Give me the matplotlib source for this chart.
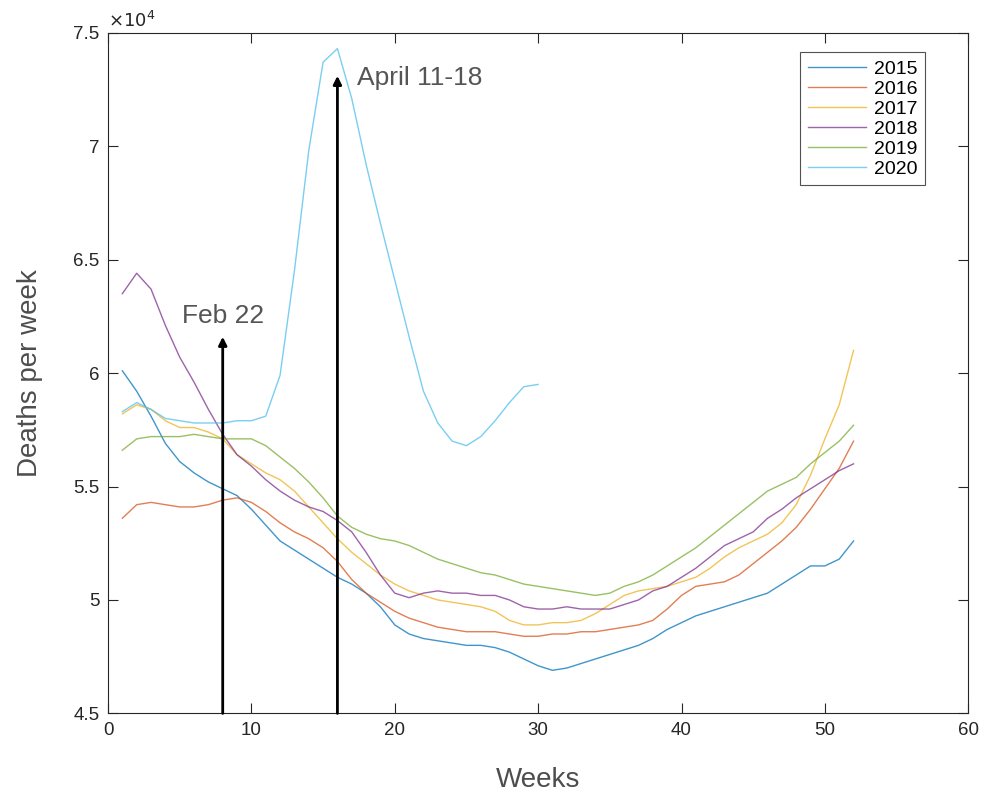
import matplotlib.pyplot as plt
import numpy as np

plt.rcParams['font.family'] = ['Liberation Sans', 'DejaVu Sans']

# weekly deaths (x 10^4)
weeks = np.arange(1, 53)
d2015 = [6.01, 5.92, 5.81, 5.69, 5.61, 5.56, 5.52, 5.49, 5.46, 5.40, 5.33, 5.26, 5.22,
         5.18, 5.14, 5.10, 5.07, 5.03, 4.97, 4.89, 4.85, 4.83, 4.82, 4.81, 4.80, 4.80,
         4.79, 4.77, 4.74, 4.71, 4.69, 4.70, 4.72, 4.74, 4.76, 4.78, 4.80, 4.83, 4.87,
         4.90, 4.93, 4.95, 4.97, 4.99, 5.01, 5.03, 5.07, 5.11, 5.15, 5.15, 5.18, 5.26]
d2016 = [5.36, 5.42, 5.43, 5.42, 5.41, 5.41, 5.42, 5.44, 5.45, 5.43, 5.39, 5.34, 5.30,
         5.27, 5.23, 5.17, 5.09, 5.03, 4.99, 4.95, 4.92, 4.90, 4.88, 4.87, 4.86, 4.86,
         4.86, 4.85, 4.84, 4.84, 4.85, 4.85, 4.86, 4.86, 4.87, 4.88, 4.89, 4.91, 4.96,
         5.02, 5.06, 5.07, 5.08, 5.11, 5.16, 5.21, 5.26, 5.32, 5.40, 5.49, 5.58, 5.70]
d2017 = [5.82, 5.86, 5.84, 5.79, 5.76, 5.76, 5.74, 5.71, 5.64, 5.60, 5.56, 5.53, 5.48,
         5.41, 5.34, 5.27, 5.21, 5.16, 5.11, 5.07, 5.04, 5.02, 5.00, 4.99, 4.98, 4.97,
         4.95, 4.91, 4.89, 4.89, 4.90, 4.90, 4.91, 4.94, 4.98, 5.02, 5.04, 5.05, 5.06,
         5.08, 5.10, 5.14, 5.19, 5.23, 5.26, 5.29, 5.34, 5.42, 5.55, 5.71, 5.86, 6.10]
d2018 = [6.35, 6.44, 6.37, 6.21, 6.07, 5.96, 5.84, 5.73, 5.64, 5.59, 5.53, 5.48, 5.44,
         5.41, 5.39, 5.35, 5.30, 5.21, 5.11, 5.03, 5.01, 5.03, 5.04, 5.03, 5.03, 5.02,
         5.02, 5.00, 4.97, 4.96, 4.96, 4.97, 4.96, 4.96, 4.96, 4.98, 5.00, 5.04, 5.06,
         5.10, 5.14, 5.19, 5.24, 5.27, 5.30, 5.36, 5.40, 5.45, 5.49, 5.53, 5.57, 5.60]
d2019 = [5.66, 5.71, 5.72, 5.72, 5.72, 5.73, 5.72, 5.71, 5.71, 5.71, 5.68, 5.63, 5.58,
         5.52, 5.45, 5.37, 5.32, 5.29, 5.27, 5.26, 5.24, 5.21, 5.18, 5.16, 5.14, 5.12,
         5.11, 5.09, 5.07, 5.06, 5.05, 5.04, 5.03, 5.02, 5.03, 5.06, 5.08, 5.11, 5.15,
         5.19, 5.23, 5.28, 5.33, 5.38, 5.43, 5.48, 5.51, 5.54, 5.60, 5.65, 5.70, 5.77]
weeks2020 = np.arange(1, 31)
d2020 = [5.83, 5.87, 5.84, 5.80, 5.79, 5.78, 5.78, 5.78, 5.79, 5.79, 5.81, 5.99, 6.45,
         6.98, 7.37, 7.43, 7.21, 6.92, 6.66, 6.41, 6.16, 5.92, 5.78, 5.70, 5.68, 5.72,
         5.79, 5.87, 5.94, 5.95]

labels = ['2015', '2016', '2017', '2018', '2019', '2020']
colors = ['#0072BD', '#D95319', '#EDB120', '#7E2F8E', '#77AC30', '#4DBEEE']

fig = plt.figure(figsize=(9.82, 7.98), dpi=100)
ax = fig.add_axes([0.110, 0.106, 0.876, 0.853])

series = [d2015, d2016, d2017, d2018, d2019]
for d, lab, c in zip(series, labels[:5], colors[:5]):
    ax.plot(weeks, d, color=c, lw=1.0, alpha=0.75, label=lab)
ax.plot(weeks2020, d2020, color=colors[5], lw=1.0, alpha=0.75, label=labels[5])

# annotation arrows
ax.annotate('', xy=(8, 6.16), xytext=(8, 4.5),
            arrowprops=dict(arrowstyle='-|>', color='black', lw=2,
                            mutation_scale=12, shrinkA=0, shrinkB=0))
ax.annotate('', xy=(16, 7.31), xytext=(16, 4.5),
            arrowprops=dict(arrowstyle='-|>', color='black', lw=2,
                            mutation_scale=12, shrinkA=0, shrinkB=0))
ax.text(8, 6.25, 'Feb 22', ha='center', va='center', fontsize=19, color='#555555')
ax.text(17.4, 7.30, 'April 11-18', ha='left', va='center', fontsize=19, color='#555555')

ax.set_xlim(0, 60)
ax.set_ylim(4.5, 7.5)
ax.set_xticks(np.arange(0, 61, 10))
ax.set_yticks(np.arange(4.5, 7.51, 0.5))
ax.set_yticklabels(['4.5', '5', '5.5', '6', '6.5', '7', '7.5'])
ax.tick_params(direction='in', top=True, right=True, length=7, width=0.8,
               labelsize=13.5, colors='#262626', pad=6)
for s in ax.spines.values():
    s.set_color('#262626')
    s.set_linewidth(0.8)

ax.text(0, 1.003, r'$\times10^{4}$', transform=ax.transAxes, ha='left', va='bottom',
        fontsize=13, color='#262626')

ax.set_xlabel('Weeks', fontsize=20, color='#4d4d4d', labelpad=20)
ax.set_ylabel('Deaths per week', fontsize=20, color='#4d4d4d', labelpad=22)

leg = ax.legend(loc='upper right', bbox_to_anchor=(0.950, 0.971), fontsize=14,
                frameon=True, fancybox=False, edgecolor='#262626',
                handlelength=3.0, handletextpad=0.4, borderpad=0.4,
                labelspacing=0.12, borderaxespad=0)
leg.get_frame().set_linewidth(0.8)

fig.savefig('out.png', dpi=100)
